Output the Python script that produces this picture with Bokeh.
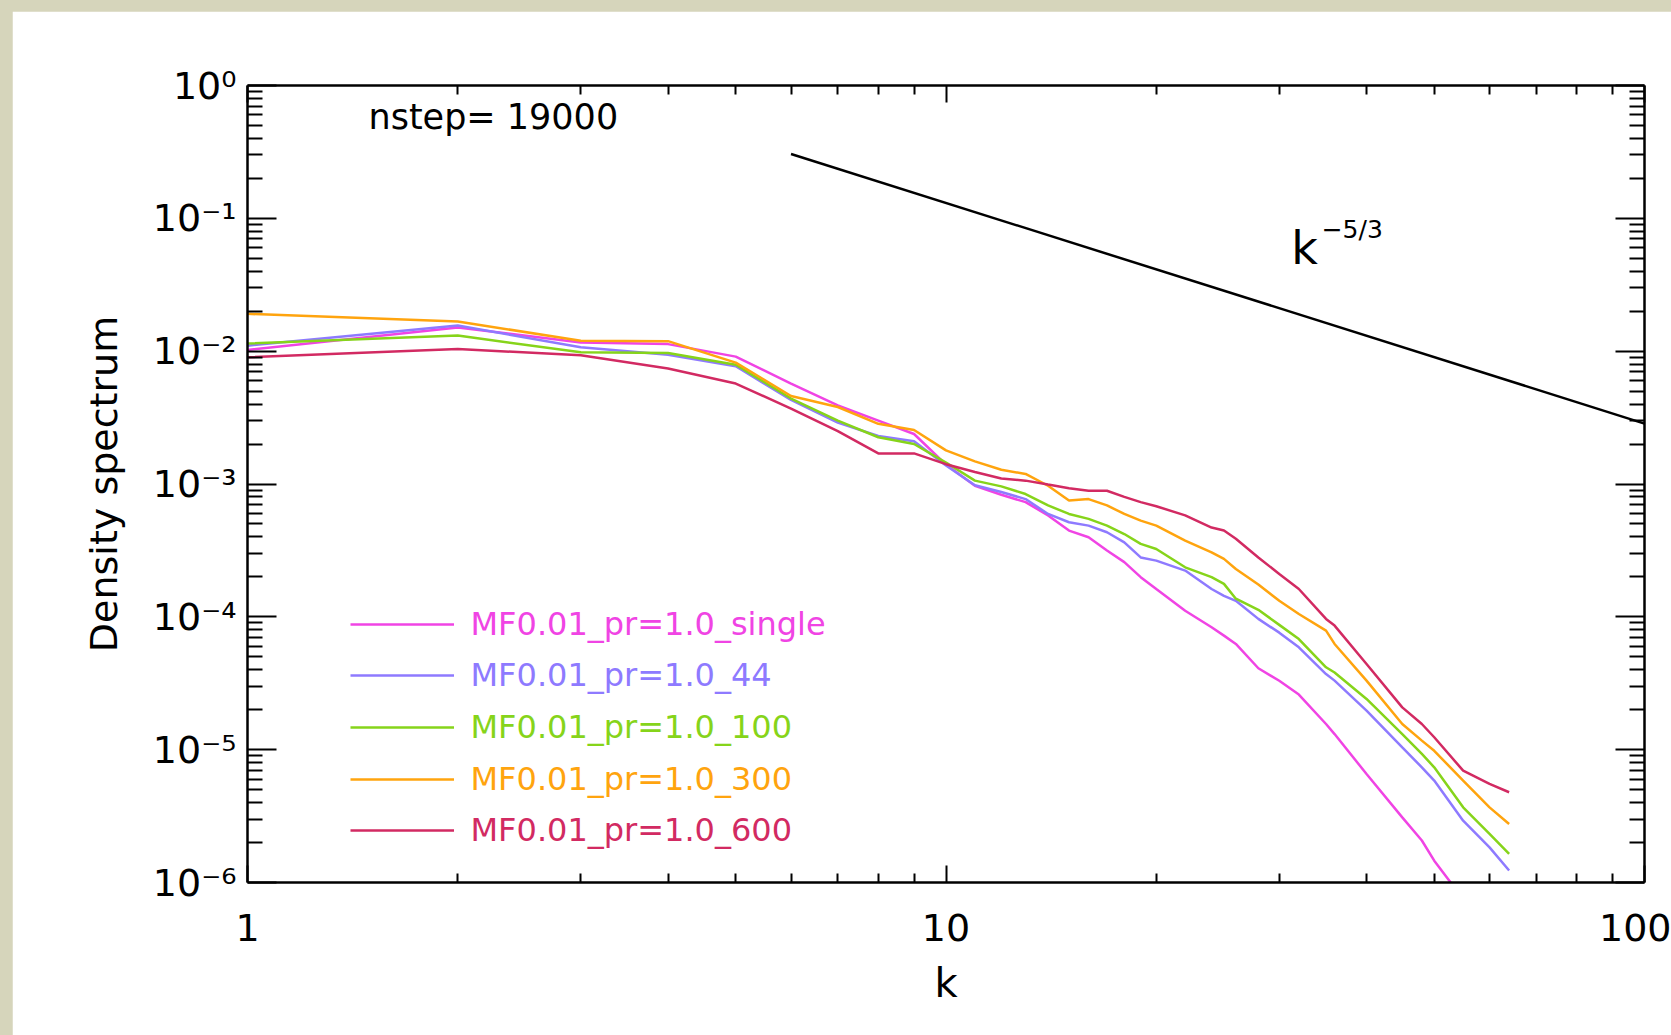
from bokeh.plotting import figure
from bokeh.models import (Range1d, FixedTicker, CustomJSTickFormatter, LogAxis,
                          Label, Legend, LegendItem)
from bokeh.layouts import column
from bokeh.embed import file_html
from bokeh.resources import INLINE

# ---------------- data ----------------
k = [1, 2, 3, 4, 5, 6, 7, 8, 9, 10, 11, 12, 13, 14, 15, 16, 17, 18, 19, 20,
     22, 24, 25, 26, 28, 30, 32, 35, 36, 40, 45, 48, 50, 55, 60, 64]

spec_single = [0.0102, 0.0151, 0.0116, 0.0113, 0.0091, 0.0057, 0.0039, 0.0030, 0.00238, 0.00140,
               0.00097, 0.00083, 0.00073, 0.00058, 0.000446, 0.000397, 0.000316, 0.000258, 0.000199, 0.000162,
               0.000111, 0.0000835, 0.0000722, 0.0000625, 0.000041, 0.000033, 0.000026, 0.0000156, 0.0000131,
               0.00000656, 0.00000309, 0.00000207, 0.00000146, 7.5e-7, 4.5e-7, 3.2e-7]
spec_44 = [0.0110, 0.0156, 0.0107, 0.0094, 0.0077, 0.0043, 0.0029, 0.0023, 0.0021, 0.00138,
           0.00098, 0.00087, 0.00077, 0.000595, 0.000515, 0.000486, 0.000433, 0.000364, 0.00028, 0.000265,
           0.000223, 0.000162, 0.000144, 0.000132, 0.0000965, 0.000076, 0.000059, 0.0000371, 0.0000331,
           0.0000197, 0.0000104, 0.00000736, 0.00000585, 0.00000292, 0.00000184, 0.00000123]
spec_100 = [0.0114, 0.0131, 0.0098, 0.0097, 0.0079, 0.0044, 0.0030, 0.00225, 0.0020, 0.00145,
            0.00106, 0.00096, 0.00084, 0.00069, 0.000595, 0.000546, 0.000486, 0.00042, 0.000354, 0.000324,
            0.000236, 0.000199, 0.000177, 0.000137, 0.000113, 0.000087, 0.000068, 0.0000417, 0.0000381,
            0.0000241, 0.0000131, 0.0000093, 0.00000736, 0.00000368, 0.00000232, 0.00000164]
spec_300 = [0.0191, 0.0167, 0.0120, 0.0119, 0.0082, 0.0046, 0.0038, 0.00284, 0.00255, 0.00179,
            0.00148, 0.00128, 0.00119, 0.00097, 0.00075, 0.00077, 0.00069, 0.000595, 0.00053, 0.000486,
            0.000375, 0.000306, 0.000273, 0.000229, 0.000175, 0.000132, 0.000105, 0.0000787, 0.0000625,
            0.0000331, 0.0000156, 0.0000117, 0.0000098, 0.00000585, 0.00000368, 0.00000276]
spec_600 = [0.0090, 0.0104, 0.0093, 0.0074, 0.0057, 0.0037, 0.0025, 0.0017, 0.0017, 0.00141,
            0.00123, 0.0011, 0.00106, 0.00099, 0.00093, 0.00089, 0.00089, 0.0008, 0.00073, 0.00068,
            0.00058, 0.00047, 0.000446, 0.000387, 0.00028, 0.00021, 0.000162, 0.0000964, 0.0000859,
            0.0000442, 0.0000208, 0.0000156, 0.0000124, 0.00000695, 0.00000552, 0.00000478]

ref_k = [6, 100]
ref_v = [0.305, 0.00285]

series_names = ["MF0.01_pr=1.0_single", "MF0.01_pr=1.0_44", "MF0.01_pr=1.0_100",
                "MF0.01_pr=1.0_300", "MF0.01_pr=1.0_600"]
series_values = [spec_single, spec_44, spec_100, spec_300, spec_600]
series_colors = ["#f044e4", "#8e7aff", "#86d41a", "#ffa40e", "#d22a62"]

x_major = [1, 10, 100]
x_tick_labels = ["1", "10", "100"]
y_major = [1e0, 1e-1, 1e-2, 1e-3, 1e-4, 1e-5, 1e-6]
y_tick_labels = ["10⁰", "10⁻¹", "10⁻²", "10⁻³", "10⁻⁴", "10⁻⁵", "10⁻⁶"]

x_title = "k"
y_title = "Density spectrum"
step_text = "nstep= 19000"

# ---------------- style ----------------
FONT = "DejaVu Sans"
x_minor = [m * d for d in (1, 10) for m in range(2, 10)]
y_minor = [m * 10.0 ** e for e in range(-6, 0) for m in range(2, 10)]

p = figure(width=1659, height=1024, x_axis_type="log", y_axis_type="log",
           x_range=Range1d(1, 100), y_range=Range1d(1e-6, 1),
           output_backend="svg", toolbar_location=None,
           min_border_left=235, min_border_right=27, min_border_top=74, min_border_bottom=153,
           background_fill_color="white", border_fill_color="white")
p.margin = (11, 0, 0, 12)
p.outline_line_color = None
p.xgrid.visible = False
p.ygrid.visible = False


def style_axis(ax, major_in, minor_in):
    ax.axis_line_color = "black"
    ax.axis_line_width = 2.5
    ax.major_tick_line_color = "black"
    ax.major_tick_line_width = 2
    ax.minor_tick_line_color = "black"
    ax.minor_tick_line_width = 2
    ax.major_tick_in = major_in
    ax.major_tick_out = 0
    ax.minor_tick_in = minor_in
    ax.minor_tick_out = 0
    ax.major_label_text_font = FONT
    ax.axis_label_text_font = FONT
    ax.axis_label_text_font_style = "normal"
    ax.axis_label_text_color = "black"
    ax.major_label_text_color = "black"


xa = p.xaxis[0]
xa.ticker = FixedTicker(ticks=x_major, minor_ticks=x_minor)
xa.formatter = CustomJSTickFormatter(args=dict(labels=x_tick_labels),
                                     code="return labels[Math.round(Math.log10(tick))];")
style_axis(xa, 17, 9)
xa.major_label_text_font_size = "38px"
xa.major_label_standoff = 31
xa.axis_label = x_title
xa.axis_label_text_font_size = "40px"
xa.axis_label_standoff = 16

ya = p.yaxis[0]
ya.ticker = FixedTicker(ticks=y_major, minor_ticks=y_minor)
ya.formatter = CustomJSTickFormatter(args=dict(labels=y_tick_labels),
                                     code="return labels[Math.round(-Math.log10(tick))];")
style_axis(ya, 29, 15)
ya.major_label_text_font_size = "38px"
ya.major_label_standoff = 11
ya.axis_label = y_title
ya.axis_label_text_font_size = "38px"
ya.axis_label_standoff = 24

top = LogAxis(ticker=FixedTicker(ticks=x_major, minor_ticks=x_minor),
              formatter=CustomJSTickFormatter(code="return '';"))
style_axis(top, 17, 9)
top.major_label_text_font_size = "0px"
top.major_label_standoff = 0
p.add_layout(top, "above")

right = LogAxis(ticker=FixedTicker(ticks=y_major, minor_ticks=y_minor),
                formatter=CustomJSTickFormatter(code="return '';"))
style_axis(right, 29, 15)
right.major_label_text_font_size = "0px"
right.major_label_standoff = 0
p.add_layout(right, "right")

# ---------------- data lines ----------------
renderers = []
for name, vals, col in zip(series_names, series_values, series_colors):
    r = p.line(k, vals, line_color=col, line_width=2.5)
    renderers.append(r)

p.line(ref_k, ref_v, line_color="black", line_width=2.5)

# ---------------- legends (one per series so each label keeps its colour) ----------------
for i, (name, col, r) in enumerate(zip(series_names, series_colors, renderers)):
    lg = Legend(items=[LegendItem(label=name, renderers=[r])],
                location=(102.5, 231.5 - 51.7 * i),
                glyph_width=104, glyph_height=54, label_height=40,
                label_standoff=17, padding=0, margin=0, spacing=0,
                border_line_alpha=0, background_fill_alpha=0,
                label_text_color=col, label_text_font=FONT,
                label_text_font_size="32px", label_text_baseline="alphabetic")
    p.add_layout(lg)

# ---------------- annotations ----------------
p.add_layout(Label(x=1.49, y=0.577, text=step_text, text_font=FONT,
                   text_font_size="35px", text_baseline="alphabetic", text_color="black"))
p.add_layout(Label(x=31.2, y=0.0602, text="k", text_font=FONT,
                   text_font_size="46px", text_baseline="alphabetic", text_color="black"))
p.add_layout(Label(x=34.5, y=0.0824, text="−5/3", text_font=FONT,
                   text_font_size="25px", text_baseline="alphabetic", text_color="black"))

root = column(p, styles={"background-color": "#d6d5bb"})
open("out.html", "w").write(file_html(root, INLINE))
